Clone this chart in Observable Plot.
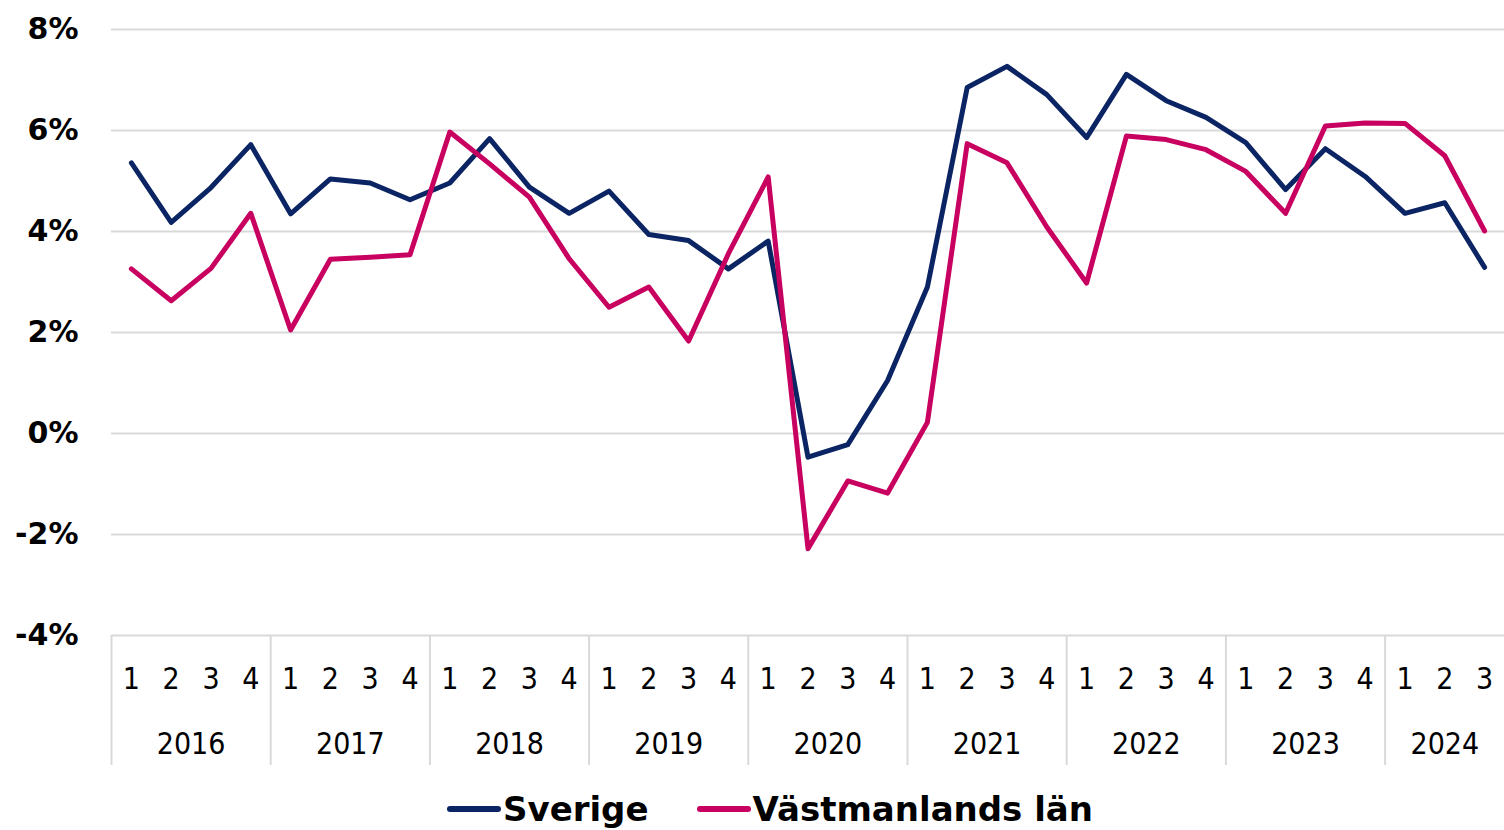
<!DOCTYPE html>
<html>
<head>
<meta charset="utf-8">
<script src="https://cdn.jsdelivr.net/npm/d3@7"></script>
<script src="https://cdn.jsdelivr.net/npm/@observablehq/plot@0.6"></script>
<style>
  body { margin: 0; background: #fff; width: 1504px; overflow: hidden; }
  #legend { height: 50px; padding-top: 4px; display: flex; justify-content: center; align-items: center; gap: 48px;
    font-family: "DejaVu Sans", sans-serif; font-weight: bold; font-size: 34px; color: #000; margin-left: 36px; }
  .item { display: flex; align-items: center; }
  .sw { width: 54px; height: 6px; border-radius: 3px; margin-right: 2px; }
</style>
</head>
<body>
<div id="chart"></div>
<div id="legend"></div>
<script>
const years = [2016, 2017, 2018, 2019, 2020, 2021, 2022, 2023, 2024];
const quarterLabels = ["1", "2", "3", "4"];
const seriesNames = ["Sverige", "Västmanlands län"];
const seriesColors = ["#0b2463", "#c8005f"];
const yTicks = [-4, -2, 0, 2, 4, 6, 8];

const sverige = [
  5.36, 4.18, 4.87, 5.72,
  4.35, 5.04, 4.96, 4.63,
  4.96, 5.84, 4.88, 4.36,
  4.80, 3.94, 3.82, 3.26,
  3.81, -0.47, -0.22, 1.05,
  2.90, 6.85, 7.27, 6.71,
  5.86, 7.11, 6.59, 6.26,
  5.76, 4.83, 5.64, 5.09,
  4.36, 4.57, 3.29
];
const vastmanland = [
  3.26, 2.63, 3.27, 4.36,
  2.05, 3.45, 3.49, 3.54,
  5.97, 5.34, 4.68, 3.46,
  2.50, 2.90, 1.83, 3.56,
  5.08, -2.28, -0.94, -1.18,
  0.22, 5.74, 5.36, 4.09,
  2.98, 5.89, 5.82, 5.62,
  5.19, 4.36, 6.09, 6.15,
  6.14, 5.50, 4.01
];

const periods = [];
years.forEach(y => quarterLabels.forEach((q, qi) => {
  if (periods.length < sverige.length) periods.push({i: periods.length, year: y, q});
}));
const rows = periods.flatMap(p => [
  {i: p.i, series: seriesNames[0], value: sverige[p.i]},
  {i: p.i, series: seriesNames[1], value: vastmanland[p.i]}
]);
const yearInfo = years.map(y => {
  const ps = periods.filter(p => p.year === y);
  return {year: y, start: ps[0].i - 0.5, mid: d3.mean(ps, p => p.i)};
});

const grey = "#d9d9d9";
const chart = Plot.plot({
  width: 1504,
  height: 780,
  marginLeft: 111,
  marginRight: 0,
  marginTop: 29,
  marginBottom: 145,
  x: {type: "linear", domain: [-0.5, periods.length - 0.5], axis: null},
  y: {domain: [-4, 8], axis: null},
  style: {background: "#fff"},
  marks: [
    Plot.ruleY(yTicks, {stroke: grey, strokeWidth: 2}),
    Plot.ruleX(yearInfo, {x: "start", y1: () => -4, y2: () => -4, insetBottom: -130, stroke: grey, strokeWidth: 2}),
    Plot.axisY({ticks: yTicks, tickFormat: d => d + "%", tickSize: 0, tickPadding: 33,
      fontSize: 30, fontWeight: "bold", fontFamily: "DejaVu Sans", fill: "#000", label: null}),
    Plot.text(periods, {x: "i", y: () => -4, text: "q", dy: 44, fontSize: 30,
      fontFamily: "Liberation Sans Narrow, DejaVu Sans Condensed, sans-serif", fill: "#000"}),
    Plot.text(yearInfo, {x: "mid", y: () => -4, text: d => String(d.year), dy: 109, fontSize: 30,
      fontFamily: "Liberation Sans Narrow, DejaVu Sans Condensed, sans-serif", fill: "#000"}),
    Plot.line(rows, {x: "i", y: "value", z: "series",
      stroke: d => d.series === seriesNames[0] ? seriesColors[0] : seriesColors[1],
      strokeWidth: 5, strokeLinejoin: "round", strokeLinecap: "round"})
  ]
});
document.getElementById("chart").appendChild(chart);

const legend = document.getElementById("legend");
seriesNames.forEach((n, k) => {
  const it = document.createElement("div");
  it.className = "item";
  it.innerHTML = `<span class="sw" style="background:${seriesColors[k]}"></span><span>${n}</span>`;
  legend.appendChild(it);
});
</script>
</body>
</html>
